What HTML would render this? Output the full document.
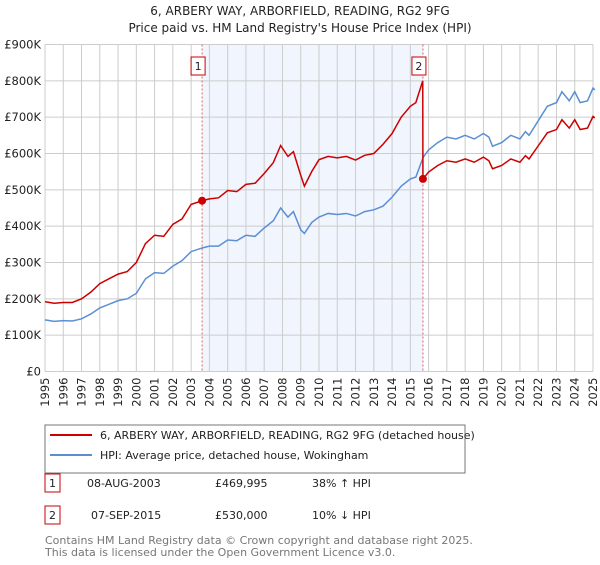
<!DOCTYPE html>
<html><head><meta charset="utf-8"><style>
body{margin:0;background:#fff;font-family:"Liberation Sans","DejaVu Sans",sans-serif;}
svg text{font-family:"DejaVu Sans","Liberation Sans",sans-serif;}
</style></head><body>
<svg id="c" width="600" height="560" viewBox="0 0 600 560" xmlns="http://www.w3.org/2000/svg">
<text x="300" y="15" text-anchor="middle" font-size="12" fill="#222">6, ARBERY WAY, ARBORFIELD, READING, RG2 9FG</text>
<text x="300" y="32" text-anchor="middle" font-size="12" fill="#222">Price paid vs. HM Land Registry's House Price Index (HPI)</text>
<g id="plot"></g>
<rect x="45" y="425" width="420" height="48" fill="#fff" stroke="#777"/>
<line x1="50" y1="435" x2="92" y2="435" stroke="#cc0000" stroke-width="2"/>
<text x="100" y="439" font-size="11" fill="#222">6, ARBERY WAY, ARBORFIELD, READING, RG2 9FG (detached house)</text>
<line x1="50" y1="455" x2="92" y2="455" stroke="#5b8fd4" stroke-width="2"/>
<text x="100" y="459" font-size="11" fill="#222">HPI: Average price, detached house, Wokingham</text>
<g font-size="11" fill="#222">
<rect x="45" y="474" width="15" height="18" fill="#fff" stroke="#cc0000"/>
<text x="52.5" y="487" text-anchor="middle">1</text>
<text x="87" y="487">08-AUG-2003</text><text x="215" y="487">£469,995</text><text x="312" y="487">38% ↑ HPI</text></g>
<g font-size="11" fill="#222">
<rect x="45" y="506" width="15" height="18" fill="#fff" stroke="#cc0000"/>
<text x="52.5" y="519" text-anchor="middle">2</text>
<text x="91" y="519">07-SEP-2015</text><text x="215" y="519">£530,000</text><text x="312" y="519">10% ↓ HPI</text></g>
<text x="45" y="544" font-size="11" fill="#777">Contains HM Land Registry data © Crown copyright and database right 2025.</text>
<text x="45" y="556" font-size="11" fill="#777">This data is licensed under the Open Government Licence v3.0.</text>
</svg>
<script>
const yTicks=[0,100,200,300,400,500,600,700,800,900];
const yLabels=["£0","£100K","£200K","£300K","£400K","£500K","£600K","£700K","£800K","£900K"];
const years=[1995,1996,1997,1998,1999,2000,2001,2002,2003,2004,2005,2006,2007,2008,2009,2010,2011,2012,2013,2014,2015,2016,2017,2018,2019,2020,2021,2022,2023,2024,2025];
const hpiT=[1995,1995.5,1996,1996.5,1997,1997.5,1998,1998.5,1999,1999.5,2000,2000.5,2001,2001.5,2002,2002.5,2003,2003.6,2004,2004.5,2005,2005.5,2006,2006.5,2007,2007.5,2007.9,2008.3,2008.6,2009,2009.2,2009.6,2010,2010.5,2011,2011.5,2012,2012.5,2013,2013.5,2014,2014.5,2015,2015.3,2015.7,2016,2016.5,2017,2017.5,2018,2018.5,2019,2019.3,2019.5,2020,2020.5,2021,2021.3,2021.5,2022,2022.5,2023,2023.3,2023.7,2024,2024.3,2024.7,2025,2025.1];
const hpiV=[142,138,140,139,145,158,175,185,195,200,215,255,272,270,290,305,330,340,345,345,362,360,375,372,395,415,450,425,440,390,380,410,425,435,432,435,428,440,445,455,480,510,530,535,589,610,630,645,640,650,640,655,645,620,630,650,640,660,650,690,730,740,770,745,770,740,745,780,775];
const priceT=[1995,1995.5,1996,1996.5,1997,1997.5,1998,1998.5,1999,1999.5,2000,2000.5,2001,2001.5,2002,2002.5,2003,2003.6,2004,2004.5,2005,2005.5,2006,2006.5,2007,2007.5,2007.9,2008.3,2008.6,2009,2009.2,2009.6,2010,2010.5,2011,2011.5,2012,2012.5,2013,2013.5,2014,2014.5,2015,2015.3,2015.68,2015.69,2016,2016.5,2017,2017.5,2018,2018.5,2019,2019.3,2019.5,2020,2020.5,2021,2021.3,2021.5,2022,2022.5,2023,2023.3,2023.7,2024,2024.3,2024.7,2025,2025.1];
const priceV=[192,188,190,190,200,218,242,255,268,275,300,352,375,372,405,420,460,470,475,478,498,495,515,518,545,575,622,592,605,540,510,550,583,592,588,592,582,595,600,625,655,700,730,740,800,530,549,567,580,576,585,576,590,580,558,567,585,576,594,585,621,657,666,693,670,693,666,670,702,698];
const saleT=[2003.6,2015.69];
const saleV=[470,530];
const saleLabels=["1","2"];

const NS="http://www.w3.org/2000/svg";
const g=document.getElementById('plot');
const X0=45,X1=593,Y0=371.5,Y1=44.5;
const xs=t=>X0+(t-1995)/30*(X1-X0);
const ys=v=>Y0-v/900*(Y0-Y1);
function mk(tag,attrs){const e=document.createElementNS(NS,tag);for(const k in attrs)e.setAttribute(k,attrs[k]);g.appendChild(e);return e;}
let e=mk('rect',{x:xs(saleT[0]),y:Y1,width:xs(saleT[1])-xs(saleT[0]),height:Y0-Y1,fill:'#f1f5fd'});


yTicks.forEach((v,i)=>{
 let l=mk('line',{x1:X0,x2:X1,y1:ys(v),y2:ys(v),stroke:'#ccc'});
 
 
 let t=mk('text',{x:X0-4,y:ys(v)+4,'text-anchor':'end','font-size':'11.5',fill:'#222'});
 t.textContent=yLabels[i];
 
 
});
years.forEach(y=>{
 let l=mk('line',{x1:xs(y),x2:xs(y),y1:Y1,y2:Y0,stroke:'#ccc'});
 
 
 let t=mk('text',{x:0,y:0,'text-anchor':'end','font-size':'11.5',fill:'#222',transform:`translate(${xs(y)+4},${Y0+6}) rotate(-90)`});
 t.textContent=y;
 
 
});
saleT.forEach((s,i)=>{
 let l=mk('line',{x1:xs(s),x2:xs(s),y1:Y1,y2:Y0,stroke:'#e06060','stroke-dasharray':'2,2'});
 
 
});
let hp=mk('polyline',{points:hpiT.map((t,i)=>xs(t)+','+ys(hpiV[i])).join(' '),fill:'none',stroke:'#5b8fd4','stroke-width':1.5});


let pp=mk('polyline',{points:priceT.map((t,i)=>xs(t)+','+ys(priceV[i])).join(' '),fill:'none',stroke:'#cc0000','stroke-width':1.5});


saleT.forEach((s,i)=>{
 let c=mk('circle',{cx:xs(s),cy:ys(saleV[i]),r:4,fill:'#cc0000'});
 
 
 let bx=xs(s)-4;
 let r=mk('rect',{x:bx-7,y:57,width:14,height:18,fill:'#fff',stroke:'#cc0000'});
 
 
 let t=mk('text',{x:bx,y:70,'text-anchor':'middle','font-size':'11',fill:'#222'});
 t.textContent=saleLabels[i];
 
 
});
</script>
</body></html>
